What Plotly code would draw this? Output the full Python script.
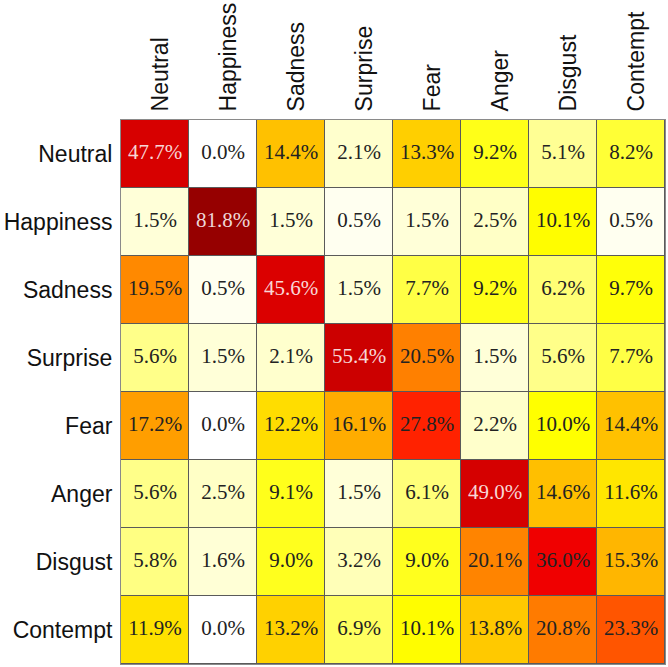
import plotly.graph_objects as go

labels = ["Neutral", "Happiness", "Sadness", "Surprise", "Fear", "Anger", "Disgust", "Contempt"]

# rows: true class, columns: predicted class (percent)
row_neutral   = [47.7, 0.0, 14.4, 2.1, 13.3, 9.2, 5.1, 8.2]
row_happiness = [1.5, 81.8, 1.5, 0.5, 1.5, 2.5, 10.1, 0.5]
row_sadness   = [19.5, 0.5, 45.6, 1.5, 7.7, 9.2, 6.2, 9.7]
row_surprise  = [5.6, 1.5, 2.1, 55.4, 20.5, 1.5, 5.6, 7.7]
row_fear      = [17.2, 0.0, 12.2, 16.1, 27.8, 2.2, 10.0, 14.4]
row_anger     = [5.6, 2.5, 9.1, 1.5, 6.1, 49.0, 14.6, 11.6]
row_disgust   = [5.8, 1.6, 9.0, 3.2, 9.0, 20.1, 36.0, 15.3]
row_contempt  = [11.9, 0.0, 13.2, 6.9, 10.1, 13.8, 20.8, 23.3]

z = [row_neutral, row_happiness, row_sadness, row_surprise,
     row_fear, row_anger, row_disgust, row_contempt]

zmax = 81.8
stops = [
    (0.0, "#FFFFFF"), (0.5, "#FFFFF0"), (1.5, "#FFFFD8"), (2.5, "#FFFFC6"),
    (5.5, "#FFFF8C"), (7.7, "#FFFF45"), (10.0, "#FFFF00"), (12.0, "#FFE000"),
    (14.5, "#FFC000"), (17.0, "#FFA000"), (20.5, "#FF8000"), (23.3, "#FF5500"),
    (27.8, "#FF2200"), (36.0, "#F00000"), (47.0, "#D80000"), (55.4, "#CC0000"),
    (81.8, "#960000"),
]
colorscale = [[v / zmax, c] for v, c in stops]

fig = go.Figure()
fig.add_trace(go.Heatmap(
    z=z, x=labels, y=labels, colorscale=colorscale, zmin=0, zmax=zmax,
    showscale=False, xgap=1, ygap=1, hoverinfo="skip",
))

tx, ty, tt, tc = [], [], [], []
for i, row in enumerate(z):
    for j, v in enumerate(row):
        tx.append(labels[j])
        ty.append(labels[i])
        tt.append(f"{v:.1f}%")
        tc.append("rgba(255,255,255,0.85)" if v > 40 else "#222222")

fig.add_trace(go.Scatter(
    x=tx, y=ty, text=tt, mode="text",
    textfont=dict(family="Liberation Serif", size=21, color=tc),
    hoverinfo="skip", showlegend=False,
))

fig.update_layout(
    width=668, height=667,
    margin=dict(l=121, r=3, t=120, b=3),
    paper_bgcolor="white", plot_bgcolor="#5a5a5a",
    showlegend=False,
    font=dict(family="Liberation Sans, Arial", size=23, color="#111111"),
)
fig.update_xaxes(
    side="top", tickangle=-90, ticks="", ticklabelstandoff=3, ticklabelshift=6,
    showgrid=False, zeroline=False, automargin=False,
    showline=True, mirror=True, linecolor="#8a8a8a", linewidth=1,
    tickfont=dict(size=23), categoryorder="array", categoryarray=labels,
)
fig.update_yaxes(
    autorange="reversed", ticks="", ticklabelstandoff=3,
    showgrid=False, zeroline=False, automargin=False,
    showline=True, mirror=True, linecolor="#8a8a8a", linewidth=1,
    tickfont=dict(size=23), categoryorder="array", categoryarray=labels,
)

fig.write_html(
    "out.html",
    config={"displayModeBar": False},
    post_script="document.body.style.margin='0';document.body.style.padding='0';",
)
